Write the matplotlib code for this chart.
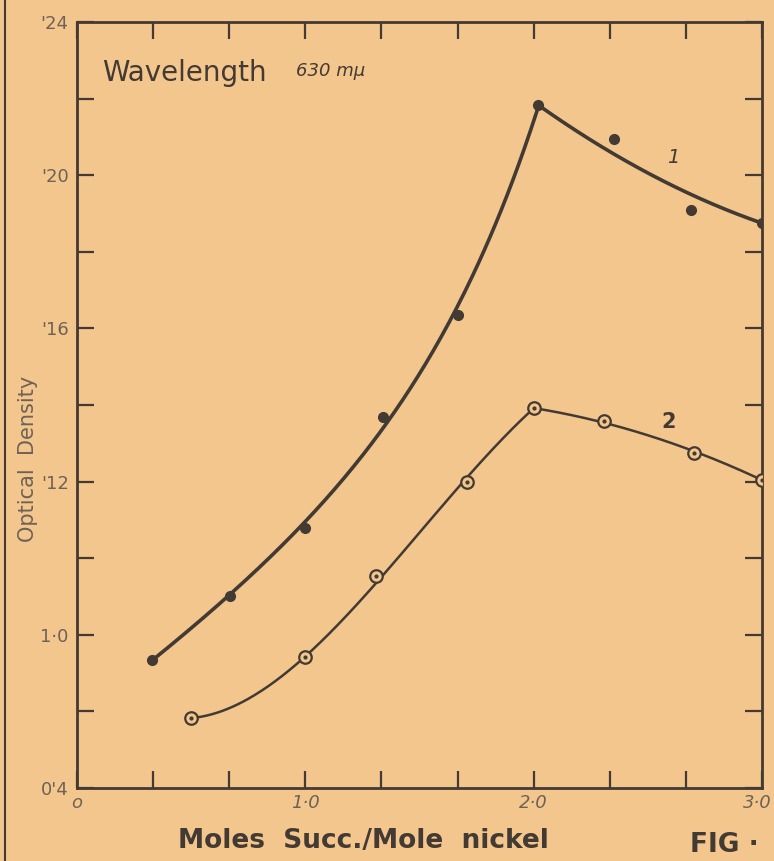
"""Optical density vs moles succinate per mole nickel."""

import matplotlib.pyplot as plt
import matplotlib.transforms as mtransforms
import numpy as np

# %% Data

# curve 1 (filled points)
x1 = [0.33, 0.67, 1.00, 1.34, 1.67, 2.02, 2.35, 2.69, 3.00]
y1 = [0.0734, 0.0901, 0.1079, 0.1369, 0.1635, 0.2183, 0.2095, 0.1909, 0.1875]

# curve 2 (open points)
x2 = [0.50, 1.00, 1.31, 1.71, 2.00, 2.31, 2.70, 3.00]
y2 = [0.0583, 0.0742, 0.0954, 0.1199, 0.1392, 0.1358, 0.1275, 0.1204]

# index of the peak where each curve breaks
peak1 = 5
peak2 = 4

ytick_vals = [0.04, 0.08, 0.12, 0.16, 0.20, 0.24]
ytick_labels = ["0'4", "1·0", "'12", "'16", "'20", "'24"]
xtick_vals = [0, 1, 2, 3]
xtick_labels = ["o", "1·0", "2·0", "3·0"]

# %% Style

paper = '#f3c68d'
ink = '#433a33'
pencil = '#6e6257'

fig = plt.figure(figsize=(7.74, 8.61), dpi=100, facecolor=paper)
ax = fig.add_axes([77 / 774, 1 - 788 / 861, 685 / 774, 766 / 861])
ax.set_facecolor(paper)


def smooth(xs, ys, deg, w, log=False):
    ys = np.log(ys) if log else np.asarray(ys)
    coef = np.polyfit(xs, ys, deg, w=w)
    xx = np.linspace(xs[0], xs[-1], 200)
    yy = np.polyval(coef, xx)
    return xx, (np.exp(yy) if log else yy)


# curve 1: rising part and falling part
xa, ya = smooth(x1[:peak1 + 1], y1[:peak1 + 1], 3, [8, 0.5, 5, 6, 6, 8], log=True)
xb, yb = smooth(x1[peak1:], y1[peak1:], 2, [8, 1, 1, 8])
ax.plot(xa, ya, color=ink, lw=2.6, solid_capstyle='round')
ax.plot(xb, yb, color=ink, lw=2.6, solid_capstyle='round')
ax.plot(x1, y1, 'o', color=ink, ms=7, zorder=3)

# curve 2
xa, ya = smooth(x2[:peak2 + 1], y2[:peak2 + 1], 3, [6, 8, 3, 3, 8])
xb, yb = smooth(x2[peak2:], y2[peak2:], 2, [8, 1, 1, 8])
ax.plot(xa, ya, color=ink, lw=1.8)
ax.plot(xb, yb, color=ink, lw=1.8)
ax.plot(x2, y2, 'o', mfc=paper, mec=ink, mew=1.6, ms=9, zorder=3)
ax.plot(x2, y2, 'o', color=ink, ms=2, zorder=4)

# %% Axes

ax.set_xlim(0, 3.0)
ax.set_ylim(0.04, 0.24)

ax.set_xticks(xtick_vals)
ax.set_xticklabels(xtick_labels, fontsize=13, style='italic', color=pencil)
ax.set_xticks(np.arange(0, 3.01, 1 / 3), minor=True)
ax.set_yticks(ytick_vals)
ax.set_yticklabels(ytick_labels, fontsize=13, color=pencil)
ax.set_yticks(np.arange(0.04, 0.241, 0.02), minor=True)

ax.tick_params(which='both', direction='in', length=12, width=1.6,
               color=ink, top=True, right=True)
ax.tick_params(axis='x', which='major', pad=4)
ax.tick_params(axis='y', which='major', pad=6)

# keep the last x label inside the page
last = ax.get_xticklabels()[-1]
last.set_horizontalalignment('right')
last.set_transform(last.get_transform() +
                   mtransforms.ScaledTranslation(10 / 100, 0, fig.dpi_scale_trans))

for s in ax.spines.values():
    s.set_color(ink)
    s.set_linewidth(2)

ax.set_xlabel('Moles  Succ./Mole  nickel', fontsize=19, color=ink,
              fontweight='bold')
ax.xaxis.set_label_coords((363 - 77) / 685, -40 / 766)
ax.set_ylabel('Optical  Density', fontsize=15, color=pencil)
ax.yaxis.set_label_coords(-(77 - 38) / 685, 0.43)

ax.text(0.11, 0.2268, 'Wavelength', fontsize=20, color=ink, va='center')
ax.text(0.96, 0.2272, '630 mμ', fontsize=13, color=ink, va='center', style='italic')
ax.text(2.61, 0.2045, '1', fontsize=14, color=ink, style='italic', ha='center', va='center')
ax.text(2.59, 0.1356, '2', fontsize=15, color=ink, fontweight='bold', ha='center', va='center')

fig.text(690 / 774, 1 - 845 / 861, 'FIG ·', fontsize=19, fontweight='bold',
         color=ink, va='center')

# page border at the left edge
fig.add_artist(plt.Line2D([5 / 774, 5 / 774], [0, 1], color=ink, lw=1.5))

fig.savefig('out.png', dpi=100, facecolor=paper)
